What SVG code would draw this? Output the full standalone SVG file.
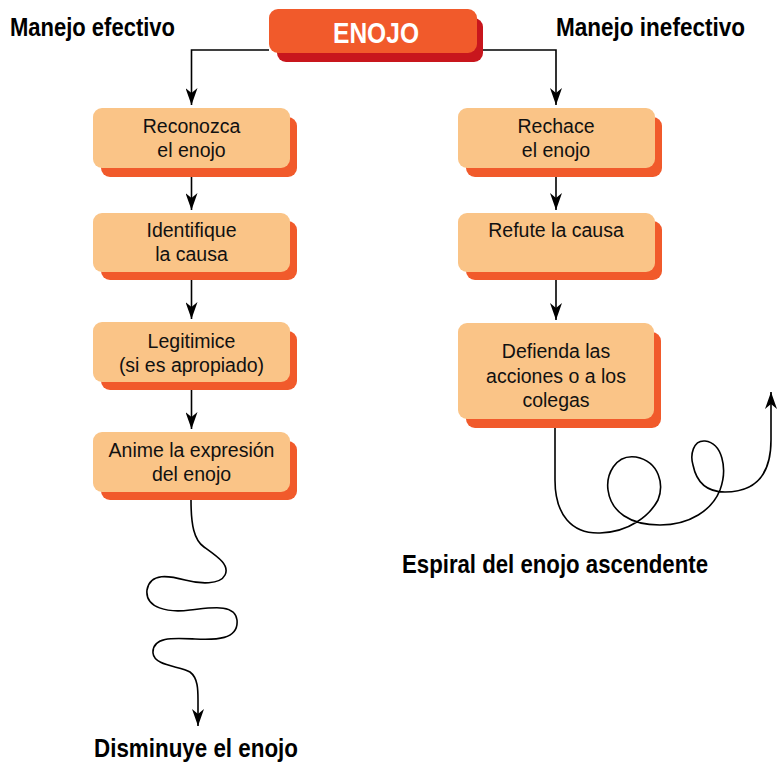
<svg xmlns="http://www.w3.org/2000/svg" width="777" height="768" viewBox="0 0 777 768">
<defs>
<style>
.box{fill:#FAC487}
.sh{fill:#F15A2B}
.t{font-family:"Liberation Sans",Arial,sans-serif;font-size:19.5px;fill:#111;text-anchor:middle}
.h{font-family:"Liberation Sans",Arial,sans-serif;font-size:25px;font-weight:bold;fill:#000}
.ln{fill:none;stroke:#000;stroke-width:1.6}
</style>
<marker id="ahv" viewBox="0 0 17 12" refX="17" refY="6" markerWidth="17" markerHeight="12" markerUnits="userSpaceOnUse" orient="auto">
<path d="M0,0 L5,6 L0,12 L17,6 Z" fill="#000"/>
</marker>
</defs>
<rect width="777" height="768" fill="#fff"/>

<g id="connectors">
<path class="ln" d="M269,50 L191.5,50 L191.5,105" marker-end="url(#ahv)"/>
<path class="ln" d="M483,50 L556,50 L556,105" marker-end="url(#ahv)"/>
<path class="ln" d="M191.5,177 L191.5,210" marker-end="url(#ahv)"/>
<path class="ln" d="M191.5,280 L191.5,319" marker-end="url(#ahv)"/>
<path class="ln" d="M191.5,390 L191.5,429" marker-end="url(#ahv)"/>
<path class="ln" d="M556,177 L556,210" marker-end="url(#ahv)"/>
<path class="ln" d="M556,280 L556,320" marker-end="url(#ahv)"/>
<path class="ln" d="M191,500 C191,525 194,540 204,547 C218,557 230,565 225,575 C220,585 200,584 185,580 C170,576 150,572 147,590 C145,608 168,613 190,610 C210,608 235,603 237,620 C239,640 215,640 195,639 C175,638 152,636 153,653 C154,666 180,666 190,672 C198,678 198,690 198,700 L198,726" marker-end="url(#ahv)"/>
<path class="ln" d="M555,428 L555,480 C555,515 572,534 600,533 C630,532 650,515 658,500 C664,485 660,462 636,457 C615,454 606,475 608,490 C611,512 630,525 660,525 C690,525 712,510 720,490 C728,468 722,443 705,441 C693,440 690,455 693,465 C697,485 710,492 725,492 C755,492 771,475 771,440 L771,392" marker-end="url(#ahv)"/>
</g>

<g id="enojo">
<rect x="277" y="18" width="206" height="44" rx="9" fill="#C8161D"/>
<rect x="269" y="9" width="208" height="44" rx="9" fill="#F15A2B"/>
<text x="376" y="43" font-family="'Liberation Sans',Arial,sans-serif" font-size="29" font-weight="bold" fill="#fff" text-anchor="middle" textLength="86" lengthAdjust="spacingAndGlyphs">ENOJO</text>
</g>

<g id="hdr-left"><text class="h" x="10" y="36" textLength="165" lengthAdjust="spacingAndGlyphs">Manejo efectivo</text></g>
<g id="hdr-right"><text class="h" x="556" y="36" textLength="189" lengthAdjust="spacingAndGlyphs">Manejo inefectivo</text></g>

<g id="n1">
<rect class="sh" x="101" y="117" width="196" height="60" rx="9"/>
<rect class="box" x="93" y="108" width="197" height="60" rx="9"/>
<text class="t" x="191.5" y="133">Reconozca</text>
<text class="t" x="191.5" y="157">el enojo</text>
</g>
<g id="n2">
<rect class="sh" x="101" y="221" width="196" height="59" rx="9"/>
<rect class="box" x="93" y="213" width="197" height="59" rx="9"/>
<text class="t" x="191.5" y="237">Identifique</text>
<text class="t" x="191.5" y="261">la causa</text>
</g>
<g id="n3">
<rect class="sh" x="101" y="331" width="196" height="59" rx="9"/>
<rect class="box" x="93" y="322" width="197" height="60" rx="9"/>
<text class="t" x="191.5" y="348">Legitimice</text>
<text class="t" x="191.5" y="372">(si es apropiado)</text>
</g>
<g id="n4">
<rect class="sh" x="101" y="441" width="196" height="59" rx="9"/>
<rect class="box" x="93" y="432" width="197" height="60" rx="9"/>
<text class="t" x="191.5" y="457">Anime la expresión</text>
<text class="t" x="191.5" y="481">del enojo</text>
</g>

<g id="r1">
<rect class="sh" x="466" y="117" width="196" height="60" rx="9"/>
<rect class="box" x="458" y="108" width="197" height="60" rx="9"/>
<text class="t" x="556" y="133">Rechace</text>
<text class="t" x="556" y="157">el enojo</text>
</g>
<g id="r2">
<rect class="sh" x="466" y="221" width="196" height="59" rx="9"/>
<rect class="box" x="458" y="213" width="197" height="59" rx="9"/>
<text class="t" x="556" y="237">Refute la causa</text>
</g>
<g id="r3">
<rect class="sh" x="466" y="332" width="195" height="96" rx="9"/>
<rect class="box" x="458" y="323" width="196" height="96" rx="9"/>
<text class="t" x="556" y="358">Defienda las</text>
<text class="t" x="556" y="383">acciones o a los</text>
<text class="t" x="556" y="407">colegas</text>
</g>

<g id="lbl-espiral"><text class="h" x="402" y="573" textLength="306" lengthAdjust="spacingAndGlyphs">Espiral del enojo ascendente</text></g>
<g id="lbl-disminuye"><text class="h" x="94" y="757" textLength="204" lengthAdjust="spacingAndGlyphs">Disminuye el enojo</text></g>
</svg>
